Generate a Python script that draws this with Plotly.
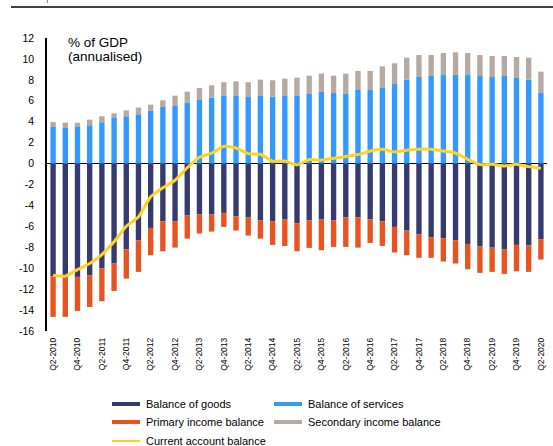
import plotly.graph_objects as go

# Quarterly periods Q2-2010 .. Q2-2020
quarters = []
for year in range(2010, 2021):
    for q in range(1, 5):
        if (year == 2010 and q < 2) or (year == 2020 and q > 2):
            continue
        quarters.append(f"Q{q}-{year}")

goods = [-10.76, -10.83, -10.83, -10.70, -10.00, -9.55, -8.18, -7.32, -6.15, -5.51,
         -5.51, -4.97, -4.84, -4.87, -4.71, -5.03, -5.16, -5.41, -5.51, -5.35,
         -5.70, -5.41, -5.35, -5.41, -5.13, -5.13, -5.32, -5.51, -6.05, -6.40,
         -6.78, -7.04, -7.13, -7.32, -7.68, -7.93, -8.03, -8.18, -7.77, -7.83, -7.23]

services = [3.50, 3.40, 3.50, 3.66, 3.95, 4.36, 4.52, 4.71, 5.03, 5.41,
            5.50, 5.85, 6.14, 6.30, 6.46, 6.46, 6.36, 6.52, 6.40, 6.46,
            6.46, 6.65, 6.84, 6.74, 6.65, 7.03, 7.03, 7.22, 7.60, 8.02,
            8.27, 8.37, 8.46, 8.46, 8.46, 8.37, 8.27, 8.37, 8.18, 8.02, 6.74]

primary_income = [-3.89, -3.82, -3.25, -3.00, -3.15, -2.62, -2.81, -3.03, -2.61, -2.87,
                  -2.52, -2.20, -1.85, -1.63, -1.34, -1.37, -1.72, -1.76, -2.26, -2.52,
                  -2.68, -2.65, -2.93, -2.55, -2.83, -2.90, -2.26, -2.36, -2.45, -2.36,
                  -2.23, -1.97, -2.23, -2.23, -2.42, -2.52, -2.32, -2.36, -2.52, -2.52, -1.94]

secondary_income = [0.47, 0.51, 0.40, 0.54, 0.57, 0.44, 0.57, 0.64, 0.60, 0.64,
                    0.99, 1.02, 1.08, 1.18, 1.31, 1.40, 1.41, 1.50, 1.56, 1.66,
                    1.75, 1.75, 1.76, 1.66, 1.95, 1.82, 1.82, 2.07, 1.98, 2.10,
                    2.10, 2.00, 2.10, 2.17, 2.10, 2.00, 2.01, 1.91, 2.00, 2.10, 2.04]

current_account = [-10.67, -10.76, -10.13, -9.55, -8.69, -7.48, -5.99, -5.10, -3.18, -2.32,
                   -1.59, -0.40, 0.60, 1.00, 1.65, 1.49, 0.95, 0.89, 0.22, 0.25,
                   -0.13, 0.38, 0.32, 0.51, 0.67, 0.86, 1.20, 1.37, 1.11, 1.27,
                   1.37, 1.37, 1.20, 1.01, 0.41, -0.10, -0.07, -0.23, -0.07, -0.29, -0.45]

y_ticks = list(range(-16, 13, 2))

NAVY = "#353A70"
BLUE = "#3399FF"
ORANGE = "#E8531F"
GREY = "#B5A9A2"
YELLOW = "#FFD21F"
FONT = "Liberation Sans, Arial, sans-serif"

# Plot area in pixels: x 47..547, y 38..331
L, W, B, H = 47, 500, 331, 293


def px_x(p):
    return (p - L) / W


def px_y(p):
    return (B - p) / H


fig = go.Figure()
for name, vals, col in [
    ("Balance of goods", goods, NAVY),
    ("Balance of services", services, BLUE),
    ("Primary income balance", primary_income, ORANGE),
    ("Secondary income balance", secondary_income, GREY),
]:
    fig.add_trace(go.Bar(x=quarters, y=vals, name=name, marker=dict(color=col, line=dict(width=0)),
                         showlegend=False))

fig.add_trace(go.Scatter(x=quarters, y=current_account, name="Current account balance",
                         mode="lines", line=dict(color=YELLOW, width=3, shape="spline", smoothing=0.4),
                         showlegend=False))

fig.update_layout(
    width=553, height=446,
    margin=dict(l=L, r=553 - L - W, t=38, b=446 - B),
    paper_bgcolor="white", plot_bgcolor="white",
    barmode="relative", bargap=0.56,
    font=dict(family=FONT, color="black"),
    xaxis=dict(
        type="category", range=[-0.5, len(quarters) - 0.5],
        tickmode="array", tickvals=quarters[::2], ticktext=quarters[::2],
        tickangle=-90, tickfont=dict(size=8.5), showgrid=False, showline=False,
        ticks="", ticklabelstandoff=4,
    ),
    yaxis=dict(
        range=[-16, 12], tickvals=y_ticks, ticktext=[str(v) for v in y_ticks],
        tickfont=dict(size=10.5), showgrid=False, showline=True, linecolor="black", linewidth=1.5,
        ticks="", ticklabelstandoff=9,
        zeroline=True, zerolinecolor="black", zerolinewidth=1.2,
    ),
)

# Unit note in the top-left corner of the plot
for line_text, cy in [("% of GDP", 42.5), ("(annualised)", 56.5)]:
    fig.add_annotation(text=line_text, xref="paper", yref="paper",
                       x=px_x(66), y=px_y(cy), xanchor="left", yanchor="middle",
                       showarrow=False, font=dict(size=13.5, family=FONT))

# Header rule across the top of the page
fig.add_shape(type="line", xref="paper", yref="paper",
              x0=px_x(11), x1=px_x(553), y0=px_y(7), y1=px_y(7),
              line=dict(color="black", width=1.5))
fig.add_shape(type="line", xref="paper", yref="paper",
              x0=px_x(47.5), x1=px_x(47.5), y0=px_y(0), y1=px_y(3),
              line=dict(color="#8A8AD8", width=1.2))

# Legend drawn as line samples with labels, two columns
legend_items = [
    ("Balance of goods", NAVY, 4, 112, 404),
    ("Balance of services", BLUE, 4, 274, 404),
    ("Primary income balance", ORANGE, 4, 112, 422),
    ("Secondary income balance", GREY, 4, 274, 422),
    ("Current account balance", YELLOW, 2, 112, 441),
]
for label, col, w, lx, ly in legend_items:
    fig.add_shape(type="line", xref="paper", yref="paper",
                  x0=px_x(lx), x1=px_x(lx + 28), y0=px_y(ly), y1=px_y(ly),
                  line=dict(color=col, width=w))
    fig.add_annotation(text=label, xref="paper", yref="paper",
                       x=px_x(lx + 32), y=px_y(ly), xanchor="left", yanchor="middle",
                       showarrow=False, font=dict(size=11, family=FONT))

fig.write_html("out.html")
